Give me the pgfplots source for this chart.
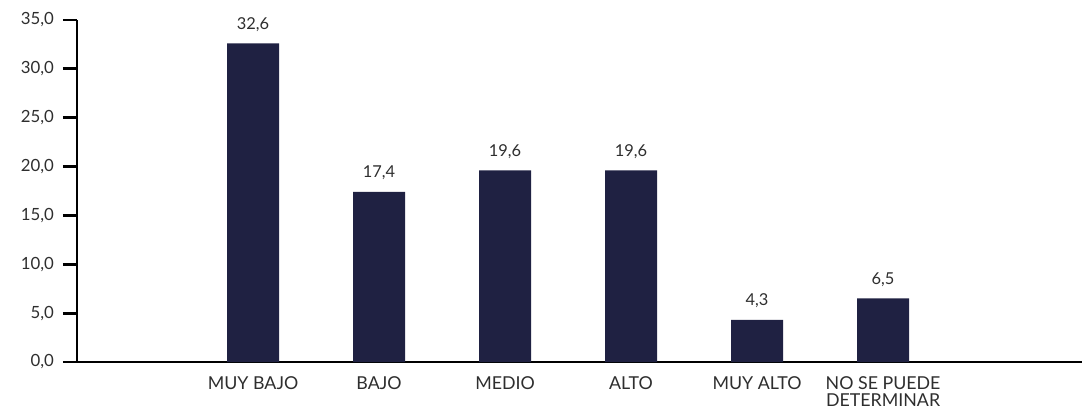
\documentclass[border=0pt]{standalone}
\usepackage{pgfplots}
\pgfplotsset{compat=1.18}
\usepackage{fontspec}
\setmainfont{Lato}
\definecolor{barblue}{HTML}{1F2142}
\definecolor{txt}{HTML}{2E2E2E}
\begin{document}
\begin{tikzpicture}
\begin{axis}[
  scale only axis,
  width=502.5pt, height=171pt,
  ymin=0, ymax=35,
  xmin=-0.397, xmax=7.579,
  ytick={0,5,...,35},
  axis x line=bottom, axis y line=left,
  y axis line style={line width=1.4pt, -},
  x axis line style={line width=1pt, -},
  xtick={1,2,3,4,5,6},
  xticklabels={MUY BAJO, BAJO, MEDIO, ALTO, MUY ALTO, {NO SE PUEDE\\DETERMINAR}},
  x tick label style={font=\fontsize{8.9}{8.4}\selectfont, color=txt, align=center, yshift=3pt},
  y tick label style={font=\fontsize{8.4}{8}\selectfont, color=txt, xshift=-1pt},
  major x tick style={draw=none},
  ytick style={line width=1.4pt, black},
  tick align=outside,
  major tick length=7pt,
  /pgf/number format/assume math mode=true,
  yticklabel={\pgfmathprintnumber[fixed, fixed zerofill, precision=1, use comma]{\tick}},
  ybar, bar width=26pt,
  nodes near coords={\pgfmathprintnumber[fixed, fixed zerofill, precision=1, use comma]{\pgfplotspointmeta}},
  nodes near coords style={font=\fontsize{8.2}{8}\selectfont, color=txt, yshift=2.5pt},
  clip=false,
]
\addplot[fill=barblue, draw=none] coordinates {
  (1,32.6) (2,17.4) (3,19.6) (4,19.6) (5,4.3) (6,6.5)
};
\coordinate (o) at (rel axis cs:0,0);
\end{axis}
\pgfresetboundingbox
\path[use as bounding box] (o) ++(-38.5pt,-23.5pt) rectangle ++(543pt,204.5pt);
\end{tikzpicture}
\end{document}
